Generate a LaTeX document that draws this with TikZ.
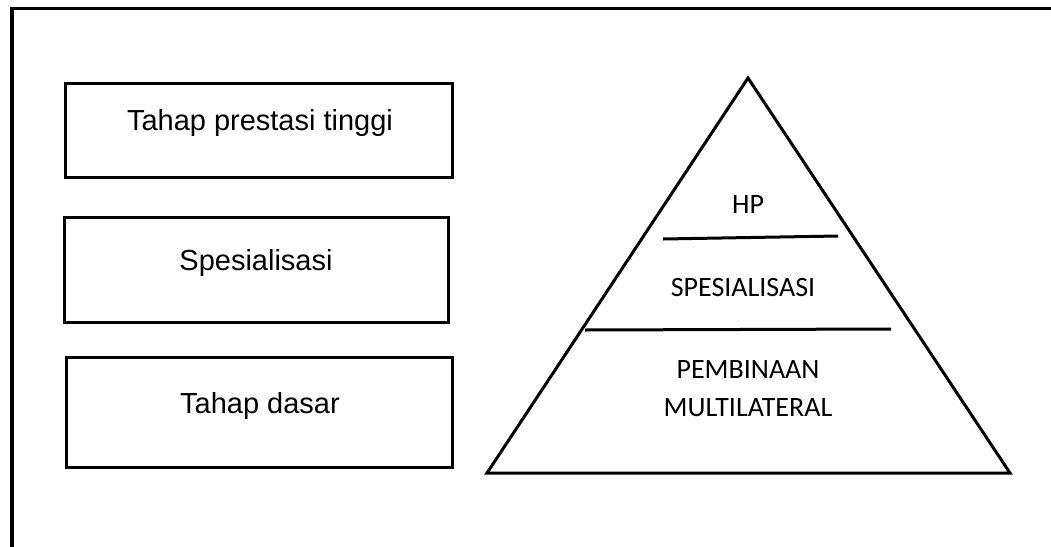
\documentclass[tikz,border=0pt]{standalone}
\usepackage{fontspec}
\setmainfont{Liberation Sans}
\newfontfamily\calibrifont{Carlito}
\begin{document}
\begin{tikzpicture}[x=1pt,y=-1pt,
  stagebox/.style={draw,line width=3pt,rectangle,inner sep=0pt},
  stagetext/.style={anchor=base,inner sep=0pt,font=\fontsize{29}{34}\selectfont},
  pyrtext/.style={anchor=base,inner sep=0pt,align=center,font=\calibrifont\fontsize{28}{38}\selectfont},
  rule/.style={line width=3pt}]
  \useasboundingbox (0,0) rectangle (1051,546);
  \fill[white] (0,0) rectangle (1051,546);
  % outer frame, running off the right and bottom edges
  \begin{scope}
    \clip (0,0) rectangle (1051,546);
    \draw[line width=3.5pt] (12,8.5) rectangle (1070,570);
  \end{scope}
  % stage boxes
  \node[stagebox,minimum width=387pt,minimum height=94pt] (b1) at (258.5,130) {};
  \node[stagebox,minimum width=384pt,minimum height=105pt] (b2) at (256,269.5) {};
  \node[stagebox,minimum width=386pt,minimum height=110pt] (b3) at (259,412) {};
  \node[stagetext] (t1) at (260,130) {Tahap prestasi tinggi};
  \node[stagetext] (t2) at (256,270) {Spesialisasi};
  \node[stagetext] (t3) at (260,413) {Tahap dasar};
  % pyramid
  \coordinate (apex) at (748,78);
  \coordinate (bl) at (487,473);
  \coordinate (br) at (1010,473);
  \draw[rule,line join=miter] (apex) -- (br) -- (bl) -- cycle;
  \coordinate (l1a) at (663,239);
  \coordinate (l1b) at (838,236);
  \coordinate (l2a) at (585,330);
  \coordinate (l2b) at (891,329);
  \draw[rule] (l1a) -- (l1b);
  \draw[rule] (l2a) -- (l2b);
  \node[pyrtext] (hp) at (748,213) {HP};
  \node[pyrtext] (sp) at (743,296) {SPESIALISASI};
  \node[pyrtext] (pm) at (748,416) {PEMBINAAN\\MULTILATERAL};
\end{tikzpicture}
\end{document}
